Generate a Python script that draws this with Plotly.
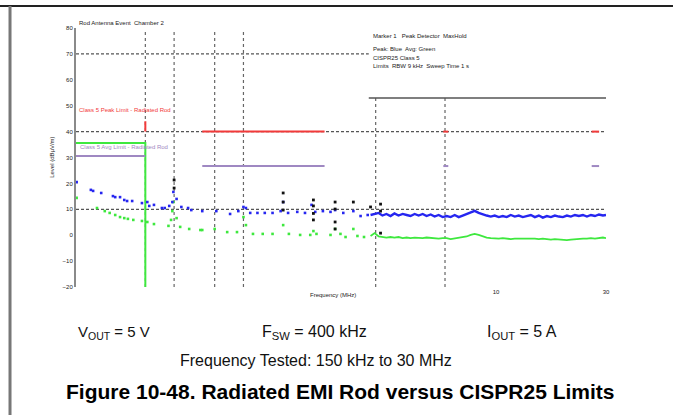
import math
import plotly.graph_objects as go

# ---------------- data ----------------
# Peak trace (blue), sparse low-frequency part
blue_f = [0.151, 0.174, 0.178, 0.193, 0.217, 0.222, 0.233, 0.243, 0.250, 0.263, 0.290, 0.306,
          0.312, 0.327, 0.354, 0.364, 0.381, 0.393, 0.397, 0.41, 0.43, 0.46, 0.475, 0.53, 0.61,
          0.70, 0.76, 0.80, 0.82, 0.856, 0.92, 0.99, 1.07, 1.16, 1.19, 1.25, 1.37, 1.48, 1.58,
          1.64, 1.77, 1.91, 2.0, 2.17, 2.40, 2.58, 2.77]
blue_v = [20.5, 17.5, 17.1, 16.3, 15.1, 14.7, 14.7, 13.6, 13.2, 13.2, 12.4, 12.8,
          11.3, 11.7, 10.5, 10.5, 11.3, 12.8, 16.7, 14.0, 10.9, 10.5, 9.7, 9.3, 9.3,
          8.2, 9.3, 10.9, 10.5, 8.6, 8.6, 8.6, 8.6, 9.3, 12.8, 8.6, 9.0, 8.6, 11.7,
          9.0, 9.3, 9.0, 9.7, 8.6, 9.3, 7.4, 7.8]

# dense high-frequency part (shared frequency list for peak and average)
dense_f = [2.85, 2.97, 3.09, 3.21, 3.34, 3.48, 3.62, 3.77, 3.93, 4.09, 4.25, 4.43, 4.61, 4.80,
           4.99, 5.20, 5.41, 5.63, 5.86, 6.10, 6.35, 6.61, 6.88, 7.16, 7.45, 7.76, 8.07, 8.40,
           8.75, 9.10, 9.48, 9.86, 10.27, 10.69, 11.12, 11.58, 12.05, 12.54, 13.06, 13.59,
           14.15, 14.73, 15.33, 15.95, 16.61, 17.29, 17.99, 18.73, 19.49, 20.29, 21.12, 21.98,
           22.88, 23.82, 24.79, 25.81, 26.86, 27.96, 29.10, 30.0]
blue_dense_v = [7.8, 8.2, 8.6, 7.6, 8.2, 7.4, 8.4, 7.6, 8.2, 7.8, 7.4, 8.2, 7.6, 8.2, 7.4, 8.0,
                7.2, 7.8, 7.0, 7.4, 7.0, 7.8, 7.0, 7.6, 8.2, 8.8, 9.4, 8.6, 8.0, 7.6, 7.2, 7.6,
                7.0, 7.4, 7.0, 7.8, 7.2, 7.6, 7.0, 7.4, 7.8, 7.0, 7.6, 6.8, 7.4, 7.0, 7.6, 7.2,
                7.0, 7.6, 7.2, 7.8, 7.4, 7.8, 7.2, 7.8, 7.4, 8.0, 7.6, 7.8]

# Average trace (green), sparse part
green_f = [0.151, 0.185, 0.200, 0.21, 0.222, 0.233, 0.243, 0.252, 0.266, 0.290, 0.306, 0.327,
           0.378, 0.388, 0.393, 0.397, 0.41, 0.425, 0.465, 0.52, 0.53, 0.60, 0.68, 0.75, 0.80,
           0.82, 0.88, 0.97, 1.07, 1.19, 1.26, 1.41, 1.56, 1.61, 1.66, 1.91, 2.0, 2.11, 2.22,
           2.40, 2.50, 2.67]
green_v = [14.4, 10.5, 9.3, 8.6, 7.8, 7.0, 6.6, 6.3, 5.9, 5.5, 5.1, 4.3,
           3.6, 5.9, 9.3, 12.8, 6.6, 3.2, 2.4, 2.0, 2.0, 2.4, 1.2, 1.2, 7.0,
           3.9, 0.5, 0.5, 0.5, 3.9, 0.5, 0.1, 0.1, 1.6, 0.5, 0.1, 2.4, 0.5, -0.7,
           2.4, -0.3, -0.7]
green_dense_v = [-0.3, 0.8, -0.5, -0.7, -0.9, -0.7, -0.9, -0.7, -1.1, -0.9, -1.1, -0.9, -1.1,
                 -1.1, -0.9, -1.1, -1.1, -1.3, -1.1, -1.1, -1.5, -1.3, -1.1, -0.9, -0.5, 0.1,
                 0.5, 0.1, -0.5, -0.9, -1.1, -1.3, -1.3, -1.1, -1.3, -1.5, -1.3, -1.3, -1.1,
                 -1.3, -1.1, -1.3, -1.5, -1.3, -1.5, -1.7, -1.5, -1.7, -1.9, -1.9, -1.7, -1.5,
                 -1.5, -1.3, -1.3, -1.1, -1.3, -1.1, -0.9, -1.1]

# Marker readings (black)
mark_f = [0.40, 0.40, 1.19, 1.19, 1.19, 1.61, 1.61, 1.61, 1.61, 2.0, 2.0, 2.0, 2.0, 2.4, 2.85,
          3.15, 3.15, 3.15]
mark_v = [21.3, 18.2, 16.3, 12.8, 9.7, 13.6, 11.3, 8.4, 5.9, 12.8, 10.1, 5.1, 2.4, 12.8, 10.9,
          12.0, 9.3, 0.8]

# Limit lines
red_f = [0.3, 0.3, None, 0.53, 1.8, None, 5.9, 6.2, None, 26, 28]
red_v = [44, 40, None, 40, 40, None, 40, 40, None, 40, 40]
purple_f = [0.15, 0.3, None, 0.53, 1.8, None, 5.9, 6.2, None, 26, 28]
purple_v = [30.6, 30.6, None, 26.7, 26.7, None, 26.7, 26.7, None, 26.7, 26.7]
green_lim_f = [0.15, 0.3, 0.3]
green_lim_v = [35.6, 35.6, -20]
black_lim_f = [2.8, 30]
black_lim_v = [53, 53]

# axes
x_range_mhz = [0.15, 30]
y_range = [-20, 80]
y_ticks = [-20, -10, 0, 10, 20, 30, 40, 50, 60, 70, 80]
x_ticks = [10, 30]
x_ticktext = ["10", "30"]
grid_h = [70, 40, 10]
grid_v_full = [0.3, 0.4, 0.6, 0.8]
grid_v_low = [3, 6]

# ---------------- figure ----------------
fig = go.Figure()

RED = "#f23a3a"
GREEN = "#3ee83e"
BLUE = "#2626f0"
PURPLE = "#9f88c2"

fig.add_trace(go.Scatter(x=green_lim_f, y=green_lim_v, mode="lines",
                         line=dict(color=GREEN, width=2), hoverinfo="skip"))
fig.add_trace(go.Scatter(x=purple_f, y=purple_v, mode="lines",
                         line=dict(color=PURPLE, width=2), hoverinfo="skip"))
fig.add_trace(go.Scatter(x=red_f, y=red_v, mode="lines",
                         line=dict(color=RED, width=2), hoverinfo="skip"))
fig.add_trace(go.Scatter(x=black_lim_f, y=black_lim_v, mode="lines",
                         line=dict(color="#555555", width=1.6), hoverinfo="skip"))

fig.add_trace(go.Scatter(x=green_f, y=green_v, mode="markers",
                         marker=dict(color=GREEN, size=2.6, symbol="square")))
fig.add_trace(go.Scatter(x=dense_f, y=green_dense_v, mode="lines",
                         line=dict(color=GREEN, width=1.8)))
fig.add_trace(go.Scatter(x=blue_f, y=blue_v, mode="markers",
                         marker=dict(color=BLUE, size=2.6, symbol="square")))
fig.add_trace(go.Scatter(x=dense_f, y=blue_dense_v, mode="lines",
                         line=dict(color=BLUE, width=2.4)))
fig.add_trace(go.Scatter(x=mark_f, y=mark_v, mode="markers",
                         marker=dict(color="#111111", size=2.8, symbol="square")))

shapes = []
for g in grid_h:
    x1 = 2.8 if g == 70 else 30
    shapes.append(dict(type="line", xref="x", yref="y", x0=0.15, x1=x1, y0=g, y1=g,
                       line=dict(color="#555555", width=1.2, dash="3px,2px"), layer="below"))
for f in grid_v_full:
    shapes.append(dict(type="line", xref="x", yref="y", x0=f, x1=f, y0=-20, y1=79,
                       line=dict(color="#666666", width=1.2, dash="dot"), layer="below"))
for f in grid_v_low:
    shapes.append(dict(type="line", xref="x", yref="y", x0=f, x1=f, y0=-20, y1=53,
                       line=dict(color="#666666", width=1.2, dash="dot"), layer="below"))
# page frame of the datasheet figure
shapes.append(dict(type="line", xref="paper", yref="paper", x0=-0.1434, x1=1.1264,
                   y0=1.085, y1=1.085, line=dict(color="#222222", width=2)))
shapes.append(dict(type="line", xref="paper", yref="paper", x0=-0.1245, x1=-0.1245,
                   y0=1.085, y1=-0.5, line=dict(color="#777777", width=3)))

ann = []
tiny = dict(family="Liberation Sans, Arial", size=6, color="#222222")
ann.append(dict(x=math.log10(0.152), y=48.3, xref="x", yref="y", xanchor="left", yanchor="middle",
                text="Class 5 Peak Limit - Radiated Rod", showarrow=False,
                font=dict(family="Liberation Sans, Arial", size=6, color=RED)))
ann.append(dict(x=math.log10(0.153), y=34, xref="x", yref="y", xanchor="left", yanchor="middle",
                text="Class 5 Avg Limit - Radiated Rod", showarrow=False,
                font=dict(family="Liberation Sans, Arial", size=6, color=PURPLE)))
ann.append(dict(x=0.002, y=1.02, xref="paper", yref="paper", xanchor="left", yanchor="middle",
                text="Rod Antenna Event  Chamber 2", showarrow=False, font=tiny))
legend_lines = [("Marker 1   Peak Detector  MaxHold", 1.0 - 8 / 259),
                ("Peak: Blue  Avg: Green", 1.0 - 21 / 259),
                ("CISPR25 Class 5", 1.0 - 30 / 259),
                ("Limits  RBW 9 kHz  Sweep Time 1 s", 1.0 - 38 / 259)]
for t, yy in legend_lines:
    ann.append(dict(x=(371 - 76) / 530, y=yy, xref="paper", yref="paper", xanchor="left",
                    yanchor="middle", text=t, showarrow=False, font=tiny))
ann.append(dict(x=-0.055, y=(287 - 157) / 259, xref="paper", yref="paper", textangle=-90,
                text="Level (dBµV/m)", showarrow=False, font=tiny))
ann.append(dict(x=(333 - 76) / 530, y=(287 - 300) / 259, xref="paper", yref="paper",
                text="Frequency (MHz)", showarrow=False, font=tiny))

cap = dict(family="Liberation Sans, Arial", size=16, color="#111111")
ann.append(dict(x=(76 - 76) / 530, y=(287 - 332) / 259, xref="paper", yref="paper",
                xanchor="left", yanchor="middle", text="V<sub>OUT</sub> = 5 V", showarrow=False,
                font=dict(family="Liberation Sans, Arial", size=15, color="#111111")))
ann.append(dict(x=(260 - 76) / 530, y=(287 - 332) / 259, xref="paper", yref="paper",
                xanchor="left", yanchor="middle", text="F<sub>SW</sub> = 400 kHz", showarrow=False, font=cap))
ann.append(dict(x=(485 - 76) / 530, y=(287 - 332) / 259, xref="paper", yref="paper",
                xanchor="left", yanchor="middle", text="I<sub>OUT</sub> = 5 A", showarrow=False, font=cap))
ann.append(dict(x=(316 - 76) / 530, y=(287 - 360) / 259, xref="paper", yref="paper",
                xanchor="center", yanchor="middle", text="Frequency Tested: 150 kHz to 30 MHz",
                showarrow=False, font=dict(family="Liberation Sans, Arial", size=16, color="#111111")))
ann.append(dict(x=(340 - 76) / 530, y=(287 - 391) / 259, xref="paper", yref="paper",
                xanchor="center", yanchor="middle",
                text="<b>Figure 10-48. Radiated EMI Rod versus CISPR25 Limits</b>",
                showarrow=False, font=dict(family="Liberation Sans, Arial", size=21, color="#000000")))

fig.update_layout(
    width=673, height=415,
    margin=dict(l=76, r=67, t=28, b=128),
    paper_bgcolor="white", plot_bgcolor="white",
    showlegend=False,
    font=dict(family="Liberation Sans, Arial", size=6, color="#222222"),
    shapes=shapes, annotations=ann,
    xaxis=dict(type="log", range=[math.log10(x_range_mhz[0]), math.log10(x_range_mhz[1])],
               showgrid=False, zeroline=False, showline=False, ticks="",
               tickvals=x_ticks, ticktext=x_ticktext, tickfont=dict(size=6, color="#222222")),
    yaxis=dict(range=y_range, tickvals=y_ticks, showgrid=False, zeroline=False,
               showline=True, linecolor="#8a8a8a", linewidth=2, ticks="",
               tickfont=dict(size=6, color="#222222")),
)

fig.write_html("out.html", config={"displayModeBar": False},
               post_script="document.body.style.margin='0';document.body.style.overflow='hidden';")
